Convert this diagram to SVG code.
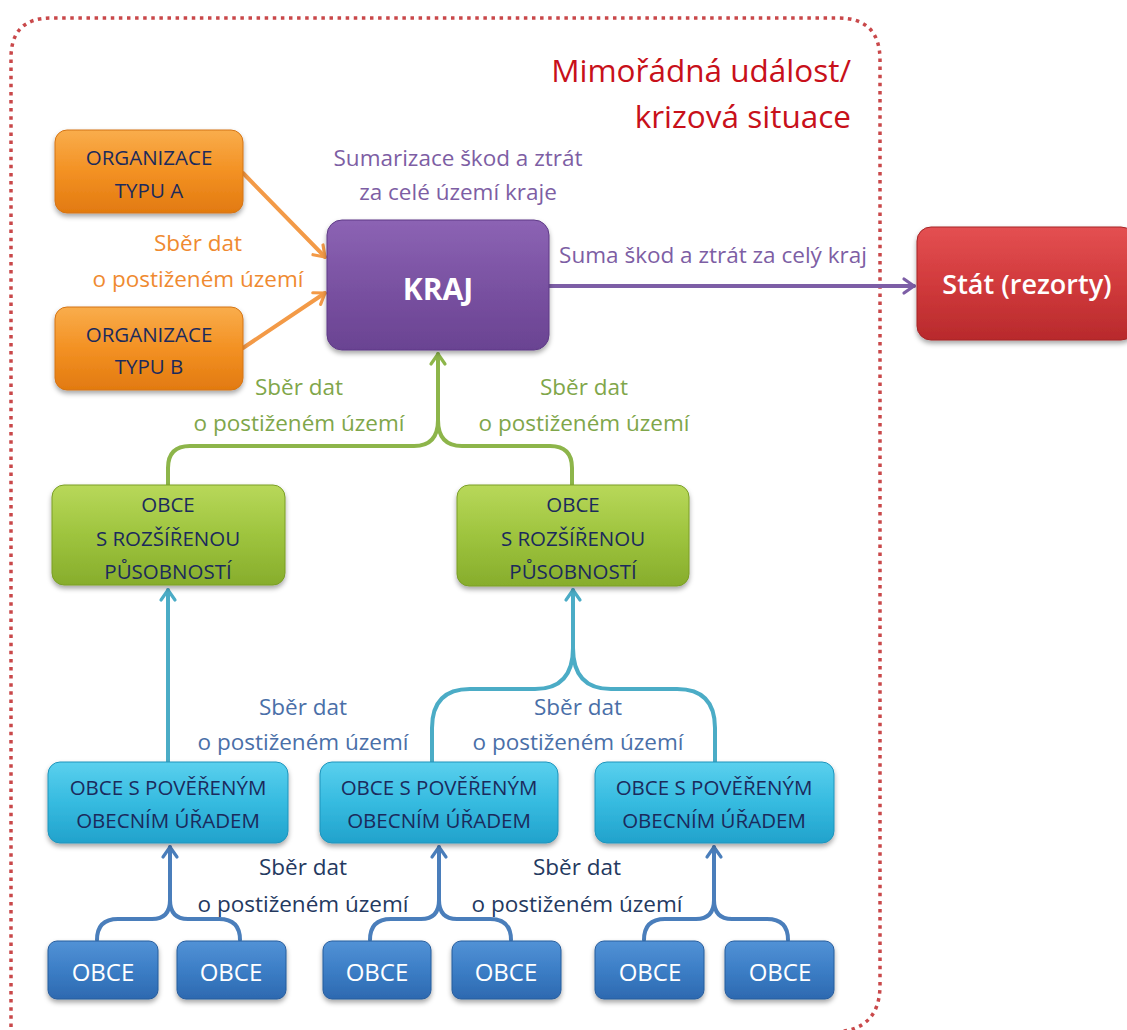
<svg xmlns="http://www.w3.org/2000/svg" width="1127" height="1030" viewBox="0 0 1127 1030">
<defs>
<style>
text{font-family:"Open Sans","Liberation Sans",sans-serif;text-anchor:middle}
.nl{fill:#1b2a5c;font-size:20.5px}
.ob{fill:#ffffff;font-size:24px}
.lbl{font-size:22.5px}
.or{fill:#ef8a30}
.pu{fill:#7d5ea4}
.gr{fill:#7fa64a}
.cy{fill:#4a6fa8}
.db{fill:#24395f}
.c{fill:none;stroke-width:4;stroke-linecap:round;stroke-linejoin:round}
.ah{fill:none;stroke-width:3.2;stroke-linecap:round;stroke-linejoin:round}
</style>
<linearGradient id="gOr" x1="0" y1="0" x2="0" y2="1"><stop offset="0" stop-color="#f9ad4c"/><stop offset="0.5" stop-color="#f39123"/><stop offset="1" stop-color="#e27a10"/></linearGradient>
<linearGradient id="gPu" x1="0" y1="0" x2="0" y2="1"><stop offset="0" stop-color="#8c63b4"/><stop offset="0.5" stop-color="#7a52a2"/><stop offset="1" stop-color="#6a4392"/></linearGradient>
<linearGradient id="gRe" x1="0" y1="0" x2="0" y2="1"><stop offset="0" stop-color="#e45052"/><stop offset="0.5" stop-color="#d13a3c"/><stop offset="1" stop-color="#b82a2c"/></linearGradient>
<linearGradient id="gGr" x1="0" y1="0" x2="0" y2="1"><stop offset="0" stop-color="#b8d85a"/><stop offset="0.5" stop-color="#9ec43e"/><stop offset="1" stop-color="#87ad2c"/></linearGradient>
<linearGradient id="gCy" x1="0" y1="0" x2="0" y2="1"><stop offset="0" stop-color="#5ad0ee"/><stop offset="0.5" stop-color="#36bbe0"/><stop offset="1" stop-color="#22a2cc"/></linearGradient>
<linearGradient id="gBl" x1="0" y1="0" x2="0" y2="1"><stop offset="0" stop-color="#5292d6"/><stop offset="0.5" stop-color="#3c7ec6"/><stop offset="1" stop-color="#2d69b0"/></linearGradient>
<filter id="sh" x="-10%" y="-10%" width="120%" height="130%"><feDropShadow dx="0" dy="3" stdDeviation="2.5" flood-color="#000" flood-opacity="0.35"/></filter>
<marker id="aOr" viewBox="0 0 20 20" refX="17" refY="10" markerWidth="20" markerHeight="20" markerUnits="userSpaceOnUse" orient="auto"><path class="ah" d="M7,3 L17,10 L7,17" stroke="#f39a47"/></marker>
<marker id="aPu" viewBox="0 0 20 20" refX="17" refY="10" markerWidth="20" markerHeight="20" markerUnits="userSpaceOnUse" orient="auto"><path class="ah" d="M7,3 L17,10 L7,17" stroke="#7d5ea6"/></marker>
<marker id="aGr" viewBox="0 0 20 20" refX="17" refY="10" markerWidth="20" markerHeight="20" markerUnits="userSpaceOnUse" orient="auto"><path class="ah" d="M7,3 L17,10 L7,17" stroke="#8db54a"/></marker>
<marker id="aCy" viewBox="0 0 20 20" refX="17" refY="10" markerWidth="20" markerHeight="20" markerUnits="userSpaceOnUse" orient="auto"><path class="ah" d="M7,3 L17,10 L7,17" stroke="#4bacc6"/></marker>
<marker id="aBl" viewBox="0 0 20 20" refX="17" refY="10" markerWidth="20" markerHeight="20" markerUnits="userSpaceOnUse" orient="auto"><path class="ah" d="M7,3 L17,10 L7,17" stroke="#4a7ebb"/></marker>
</defs>
<rect width="1127" height="1030" fill="#ffffff"/>

<g id="container">
<path d="M11,1035 L11,58 Q11,18 51,18 L838,18 Q880,18 880,60 L880,985 Q880,1030 835,1032" fill="none" stroke="#c9484a" stroke-width="3.5" stroke-dasharray="3.5 4.6"/>
<text x="851" y="82" style="text-anchor:end;font-size:31.5px;fill:#c8101a">Mimořádná událost/</text>
<text x="851" y="128" style="text-anchor:end;font-size:31.5px;fill:#c8101a">krizová situace</text>
</g>

<g id="connectors">
<path class="c" stroke="#f39a47" d="M243,173 L325,257" marker-end="url(#aOr)"/>
<path class="c" stroke="#f39a47" d="M243,348 L325,293" marker-end="url(#aOr)"/>
<path class="c" stroke="#7d5ea6" d="M549,286 L914,286" marker-end="url(#aPu)"/>
<path class="c" stroke="#8db54a" d="M168,485 L168,468 Q168,446 190,446 L414,446 Q438,446 438,420"/>
<path class="c" stroke="#8db54a" d="M572,485 L572,468 Q572,446 550,446 L462,446 Q438,446 438,420"/>
<path class="c" stroke="#8db54a" d="M438,422 L438,354" marker-end="url(#aGr)"/>
<path class="c" stroke="#4bacc6" d="M168,762 L168,590" marker-end="url(#aCy)"/>
<path class="c" stroke="#4bacc6" d="M432,762 L432,728 Q432,689 470,689 L535,689 Q573,689 573,648"/>
<path class="c" stroke="#4bacc6" d="M715,762 L715,728 Q715,689 677,689 L611,689 Q573,689 573,648"/>
<path class="c" stroke="#4bacc6" d="M573,650 L573,590" marker-end="url(#aCy)"/>
<path class="c" stroke="#4a7ebb" d="M97,940 Q97,919 118,919 L152,919 Q170,919 170,900"/>
<path class="c" stroke="#4a7ebb" d="M240,940 Q240,919 219,919 L188,919 Q170,919 170,900"/>
<path class="c" stroke="#4a7ebb" d="M170,902 L170,847" marker-end="url(#aBl)"/>
<path class="c" stroke="#4a7ebb" d="M370,940 Q370,919 391,919 L421,919 Q439,919 439,900"/>
<path class="c" stroke="#4a7ebb" d="M511,940 Q511,919 490,919 L457,919 Q439,919 439,900"/>
<path class="c" stroke="#4a7ebb" d="M439,902 L439,847" marker-end="url(#aBl)"/>
<path class="c" stroke="#4a7ebb" d="M644,940 Q644,919 665,919 L696,919 Q714,919 714,900"/>
<path class="c" stroke="#4a7ebb" d="M788,940 Q788,919 767,919 L732,919 Q714,919 714,900"/>
<path class="c" stroke="#4a7ebb" d="M714,902 L714,847" marker-end="url(#aBl)"/>
</g>

<g id="labels">
<text class="lbl pu" x="458" y="166">Sumarizace škod a ztrát</text>
<text class="lbl pu" x="458" y="200">za celé území kraje</text>
<text class="lbl pu" x="713" y="263">Suma škod a ztrát za celý kraj</text>
<text class="lbl or" x="198" y="251">Sběr dat</text>
<text class="lbl or" x="198" y="287">o postiženém území</text>
<text class="lbl gr" x="299" y="395">Sběr dat</text>
<text class="lbl gr" x="299" y="431">o postiženém území</text>
<text class="lbl gr" x="584" y="395">Sběr dat</text>
<text class="lbl gr" x="584" y="431">o postiženém území</text>
<text class="lbl cy" x="303" y="715">Sběr dat</text>
<text class="lbl cy" x="303" y="750">o postiženém území</text>
<text class="lbl cy" x="578" y="715">Sběr dat</text>
<text class="lbl cy" x="578" y="750">o postiženém území</text>
<text class="lbl db" x="303" y="875">Sběr dat</text>
<text class="lbl db" x="303" y="912">o postiženém území</text>
<text class="lbl db" x="577" y="875">Sběr dat</text>
<text class="lbl db" x="577" y="912">o postiženém území</text>
</g>

<g id="org-a"><rect x="55" y="130" width="188" height="83" rx="12" fill="url(#gOr)" stroke="#d47414" filter="url(#sh)"/><text class="nl" x="149" y="165">ORGANIZACE</text><text class="nl" x="149" y="198">TYPU A</text></g>
<g id="org-b"><rect x="55" y="307" width="188" height="83" rx="12" fill="url(#gOr)" stroke="#d47414" filter="url(#sh)"/><text class="nl" x="149" y="342">ORGANIZACE</text><text class="nl" x="149" y="374">TYPU B</text></g>
<g id="kraj"><rect x="327" y="220" width="222" height="130" rx="15" fill="url(#gPu)" stroke="#5e3a86" filter="url(#sh)"/><text x="438" y="300" style="fill:#fff;font-size:30px;font-weight:bold">KRAJ</text></g>
<g id="stat"><rect x="917" y="227" width="218" height="113" rx="14" fill="url(#gRe)" stroke="#a52427" filter="url(#sh)"/><text x="1027" y="294" style="fill:#fff;font-size:27px;font-weight:600">Stát (rezorty)</text></g>
<g id="orp-1"><rect x="52" y="485" width="233" height="100" rx="12" fill="url(#gGr)" stroke="#7a9e26" filter="url(#sh)"/><text class="nl" x="168" y="512">OBCE</text><text class="nl" x="168" y="546">S ROZŠÍŘENOU</text><text class="nl" x="168" y="579">PŮSOBNOSTÍ</text></g>
<g id="orp-2"><rect x="457" y="485" width="232" height="101" rx="12" fill="url(#gGr)" stroke="#7a9e26" filter="url(#sh)"/><text class="nl" x="573" y="512">OBCE</text><text class="nl" x="573" y="546">S ROZŠÍŘENOU</text><text class="nl" x="573" y="579">PŮSOBNOSTÍ</text></g>
<g id="pou-1"><rect x="48" y="762" width="240" height="81" rx="12" fill="url(#gCy)" stroke="#1e94bc" filter="url(#sh)"/><text class="nl" x="168" y="795">OBCE S POVĚŘENÝM</text><text class="nl" x="168" y="828">OBECNÍM ÚŘADEM</text></g>
<g id="pou-2"><rect x="320" y="762" width="238" height="81" rx="12" fill="url(#gCy)" stroke="#1e94bc" filter="url(#sh)"/><text class="nl" x="439" y="795">OBCE S POVĚŘENÝM</text><text class="nl" x="439" y="828">OBECNÍM ÚŘADEM</text></g>
<g id="pou-3"><rect x="595" y="762" width="239" height="81" rx="12" fill="url(#gCy)" stroke="#1e94bc" filter="url(#sh)"/><text class="nl" x="714" y="795">OBCE S POVĚŘENÝM</text><text class="nl" x="714" y="828">OBECNÍM ÚŘADEM</text></g>
<g id="obce-1"><rect x="48" y="941" width="110" height="58" rx="9" fill="url(#gBl)" stroke="#275c9c" filter="url(#sh)"/><text class="ob" x="103" y="981">OBCE</text></g>
<g id="obce-2"><rect x="177" y="941" width="109" height="58" rx="9" fill="url(#gBl)" stroke="#275c9c" filter="url(#sh)"/><text class="ob" x="231" y="981">OBCE</text></g>
<g id="obce-3"><rect x="323" y="941" width="108" height="58" rx="9" fill="url(#gBl)" stroke="#275c9c" filter="url(#sh)"/><text class="ob" x="377" y="981">OBCE</text></g>
<g id="obce-4"><rect x="452" y="941" width="109" height="58" rx="9" fill="url(#gBl)" stroke="#275c9c" filter="url(#sh)"/><text class="ob" x="506" y="981">OBCE</text></g>
<g id="obce-5"><rect x="595" y="941" width="109" height="58" rx="9" fill="url(#gBl)" stroke="#275c9c" filter="url(#sh)"/><text class="ob" x="650" y="981">OBCE</text></g>
<g id="obce-6"><rect x="725" y="941" width="109" height="58" rx="9" fill="url(#gBl)" stroke="#275c9c" filter="url(#sh)"/><text class="ob" x="780" y="981">OBCE</text></g>
</svg>
